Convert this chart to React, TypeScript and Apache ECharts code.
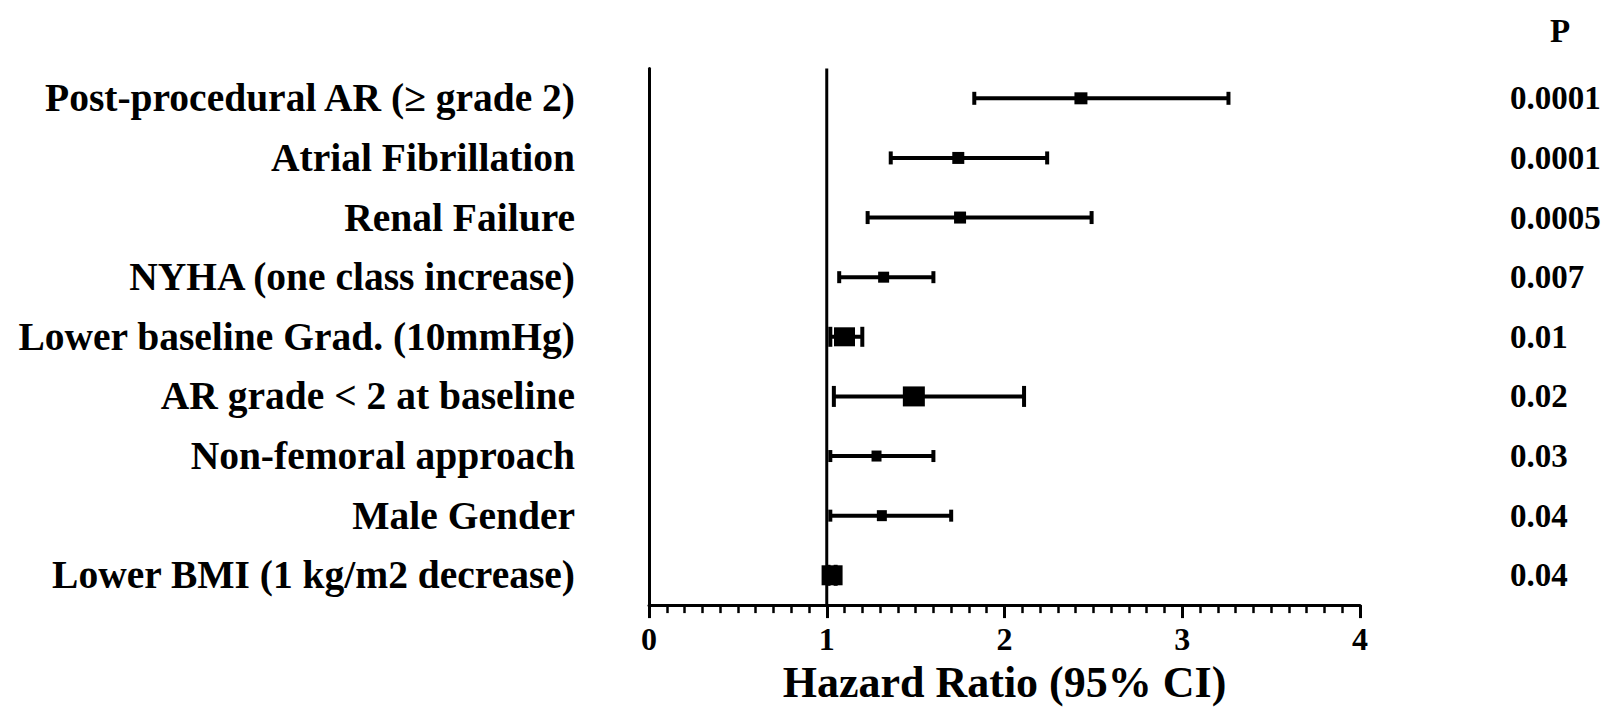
import { useEffect, useRef } from "react";
import * as echarts from "echarts";

// Multivariable predictors, hazard ratios with 95% confidence intervals
const factors = [
  "Post-procedural AR (\u2265 grade 2)",
  "Atrial Fibrillation",
  "Renal Failure",
  "NYHA (one class increase)",
  "Lower baseline Grad. (10mmHg)",
  "AR grade < 2 at baseline",
  "Non-femoral approach",
  "Male Gender",
  "Lower BMI (1 kg/m2 decrease)",
];
const hazardRatios = [2.43, 1.74, 1.75, 1.32, 1.1, 1.49, 1.28, 1.31, 1.03];
const ciLower = [1.83, 1.36, 1.23, 1.07, 1.02, 1.04, 1.02, 1.02, 1.01];
const ciUpper = [3.26, 2.24, 2.49, 1.6, 1.2, 2.11, 1.6, 1.7, 1.05];
const pValues = ["0.0001", "0.0001", "0.0005", "0.007", "0.01", "0.02", "0.03", "0.04", "0.04"];

const axisMin = 0;
const axisMax = 4;
const axisStep = 1;
const referenceHR = 1;

// Marker box dimensions (px) per row, reflecting the weight of each estimate
const boxW = [13, 12, 12, 11, 21, 22, 10, 10, 21];
const boxH = [12, 12, 12, 11, 19, 20, 11, 11, 20];

const FONT = "'Liberation Serif', 'Times New Roman', serif";

export default function App() {
  const ref = useRef<HTMLDivElement>(null);

  useEffect(() => {
    if (!ref.current) return;
    const chart = echarts.init(ref.current, null, { renderer: "svg" });

    const data = factors.map((_, i) => [hazardRatios[i], ciLower[i], ciUpper[i], i]);

    chart.setOption({
      animation: false,
      backgroundColor: "#ffffff",
      grid: { left: 649, top: 68.5, width: 711, height: 544, containLabel: false },
      xAxis: {
        type: "value",
        min: axisMin,
        max: axisMax,
        interval: axisStep,
        name: "Hazard Ratio (95% CI)",
        nameLocation: "middle",
        nameGap: 54,
        nameTextStyle: { fontFamily: FONT, fontWeight: "bold", fontSize: 44, color: "#000" },
        axisLine: { show: true, lineStyle: { color: "#000", width: 3 } },
        axisTick: { show: true, length: 13, lineStyle: { color: "#000", width: 3 } },
        minorTick: { show: true, splitNumber: 10, length: 8, lineStyle: { color: "#000", width: 2.5 } },
        splitLine: { show: false },
        minorSplitLine: { show: false },
        axisLabel: { margin: 18, fontFamily: FONT, fontWeight: "bold", fontSize: 32, color: "#000" },
      },
      yAxis: [
        {
          type: "category",
          data: factors,
          inverse: true,
          boundaryGap: true,
          axisLine: { show: true, lineStyle: { color: "#000", width: 3 } },
          axisTick: { show: false },
          splitLine: { show: false },
          axisLabel: { margin: 74, fontFamily: FONT, fontWeight: "bold", fontSize: 39.5, color: "#000" },
        },
        {
          type: "category",
          data: factors,
          inverse: true,
          position: "right",
          boundaryGap: true,
          axisLine: { show: false },
          axisTick: { show: false },
          splitLine: { show: false },
          axisLabel: {
            margin: 150,
            align: "left",
            fontFamily: FONT,
            fontWeight: "bold",
            fontSize: 33,
            color: "#000",
            formatter: (_v: string, idx: number) => pValues[idx],
          },
        },
      ],
      graphic: [
        {
          type: "text",
          x: 1560,
          y: 31,
          style: {
            text: "P",
            fontFamily: FONT,
            fontWeight: "bold",
            fontSize: 33,
            fill: "#000",
            textAlign: "center",
            textVerticalAlign: "middle",
          },
        },
      ],
      series: [
        {
          // vertical line of no effect (HR = 1), spanning the full plot height
          type: "custom",
          xAxisIndex: 0,
          yAxisIndex: 0,
          data: [[referenceHR, 0]],
          encode: { x: 0, y: 1 },
          silent: true,
          renderItem: (params: any, api: any) => {
            const p = api.coord([api.value(0), 0]);
            const cs = params.coordSys;
            return {
              type: "line",
              shape: { x1: p[0], y1: cs.y, x2: p[0], y2: cs.y + cs.height },
              style: { stroke: "#000", lineWidth: 3 },
            };
          },
        },
        {
          type: "custom",
          xAxisIndex: 0,
          yAxisIndex: 0,
          data,
          encode: { x: 0, y: 3 },
          renderItem: (params: any, api: any) => {
            const row = api.value(3);
            const lo = api.coord([api.value(1), row]);
            const hi = api.coord([api.value(2), row]);
            const mid = api.coord([api.value(0), row]);
            const i = params.dataIndex;
            const w = boxW[i];
            const h = boxH[i];
            const capH = h + 1;
            const stroke = { stroke: "#000", lineWidth: 4 };
            return {
              type: "group",
              children: [
                { type: "line", shape: { x1: lo[0], y1: lo[1], x2: hi[0], y2: hi[1] }, style: stroke },
                { type: "line", shape: { x1: lo[0], y1: lo[1] - capH / 2, x2: lo[0], y2: lo[1] + capH / 2 }, style: stroke },
                { type: "line", shape: { x1: hi[0], y1: hi[1] - capH / 2, x2: hi[0], y2: hi[1] + capH / 2 }, style: stroke },
                { type: "rect", shape: { x: mid[0] - w / 2, y: mid[1] - h / 2, width: w, height: h }, style: { fill: "#000" } },
              ],
            };
          },
        },
      ],
    });

    return () => chart.dispose();
  }, []);

  return (
    <div
      ref={ref}
      style={{ position: "fixed", left: 0, top: 0, width: 1604, height: 709, background: "#fff" }}
    />
  );
}
